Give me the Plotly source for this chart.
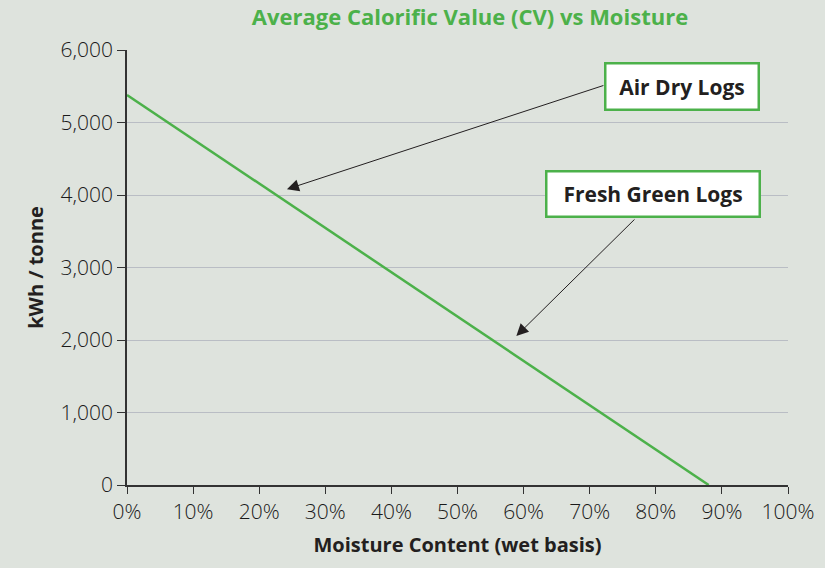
import plotly.graph_objects as go

moisture = [0, 88]
cv = [5380, 0]
x_ticks = [0, 10, 20, 30, 40, 50, 60, 70, 80, 90, 100]
x_tick_labels = [f"{v}%" for v in x_ticks]
y_ticks = [0, 1000, 2000, 3000, 4000, 5000, 6000]
y_tick_labels = ["0", "1,000", "2,000", "3,000", "4,000", "5,000", "6,000"]

labels = ["Air Dry Logs", "Fresh Green Logs"]
label_pos = [(84.0, 5503), (79.5, 4007)]
label_size = [(151, 44), (211, 43)]
arrow_head = [(24.2, 4080), (58.9, 2055)]
arrow_tail = [(72.3, 5517), (77.0, 3683)]

GREEN = "#4cb14a"
BG = "#dee3dd"
DARK = "#231f20"
TICK = "#333333"
TICKTXT = "#1a1a1a"
FONT = "Open Sans"

fig = go.Figure()
fig.add_trace(go.Scatter(x=moisture, y=cv, mode="lines",
                         line=dict(color=GREEN, width=2.5), showlegend=False,
                         hoverinfo="skip"))

for (hx, hy), (tx, ty) in zip(arrow_head, arrow_tail):
    fig.add_annotation(x=hx, y=hy, ax=tx, ay=ty, xref="x", yref="y",
                       axref="x", ayref="y", text="", showarrow=True,
                       arrowhead=2, arrowsize=2.4, arrowwidth=1.0,
                       arrowcolor=DARK)

for lab, (lx, ly), (w, h) in zip(labels, label_pos, label_size):
    fig.add_annotation(x=lx, y=ly, xref="x", yref="y", text=f"<b>{lab}</b>",
                       showarrow=False, bgcolor="white", bordercolor=GREEN,
                       borderwidth=2.5, borderpad=0, width=w, height=h,
                       align="center", valign="middle",
                       font=dict(family=FONT, size=21, color=DARK))

fig.update_layout(
    width=825, height=568,
    paper_bgcolor=BG, plot_bgcolor=BG,
    margin=dict(l=127, r=37, t=50, b=83),
    title=dict(text="<b>Average Calorific Value (CV) vs Moisture</b>",
               x=470 / 825, xanchor="center", y=1 - 17 / 568, yanchor="middle",
               font=dict(family=FONT, size=22, color=GREEN)),
    font=dict(family=FONT, color=DARK),
)
fig.update_xaxes(range=[0, 100], tickvals=x_ticks, ticktext=x_tick_labels,
                 showgrid=False, zeroline=False, showline=True,
                 linecolor=TICK, linewidth=1.5, ticks="outside",
                 ticklen=7, tickcolor=TICK,
                 tickfont=dict(family=FONT, size=21, color=TICKTXT, weight=300),
                 title=dict(text="<b>Moisture Content (wet basis)</b>",
                            font=dict(family=FONT, size=20, color=DARK),
                            standoff=14))
fig.update_yaxes(range=[0, 6000], tickvals=y_ticks, ticktext=y_tick_labels,
                 showgrid=True, gridcolor="#b9bdc4", gridwidth=1.2,
                 zeroline=False, showline=True, linecolor=TICK,
                 linewidth=1.5, ticks="outside", ticklen=8,
                 tickcolor=TICK,
                 tickfont=dict(family=FONT, size=21, color=TICKTXT, weight=300),
                 title=dict(text="<b>kWh / tonne</b>",
                            font=dict(family=FONT, size=20, color=DARK),
                            standoff=12))

fig.write_html("out.html", config={"displayModeBar": False},
               post_script="document.body.style.margin='0';"
                           "document.body.style.background='#dee3dd';"
                           "document.body.style.overflow='hidden';")
